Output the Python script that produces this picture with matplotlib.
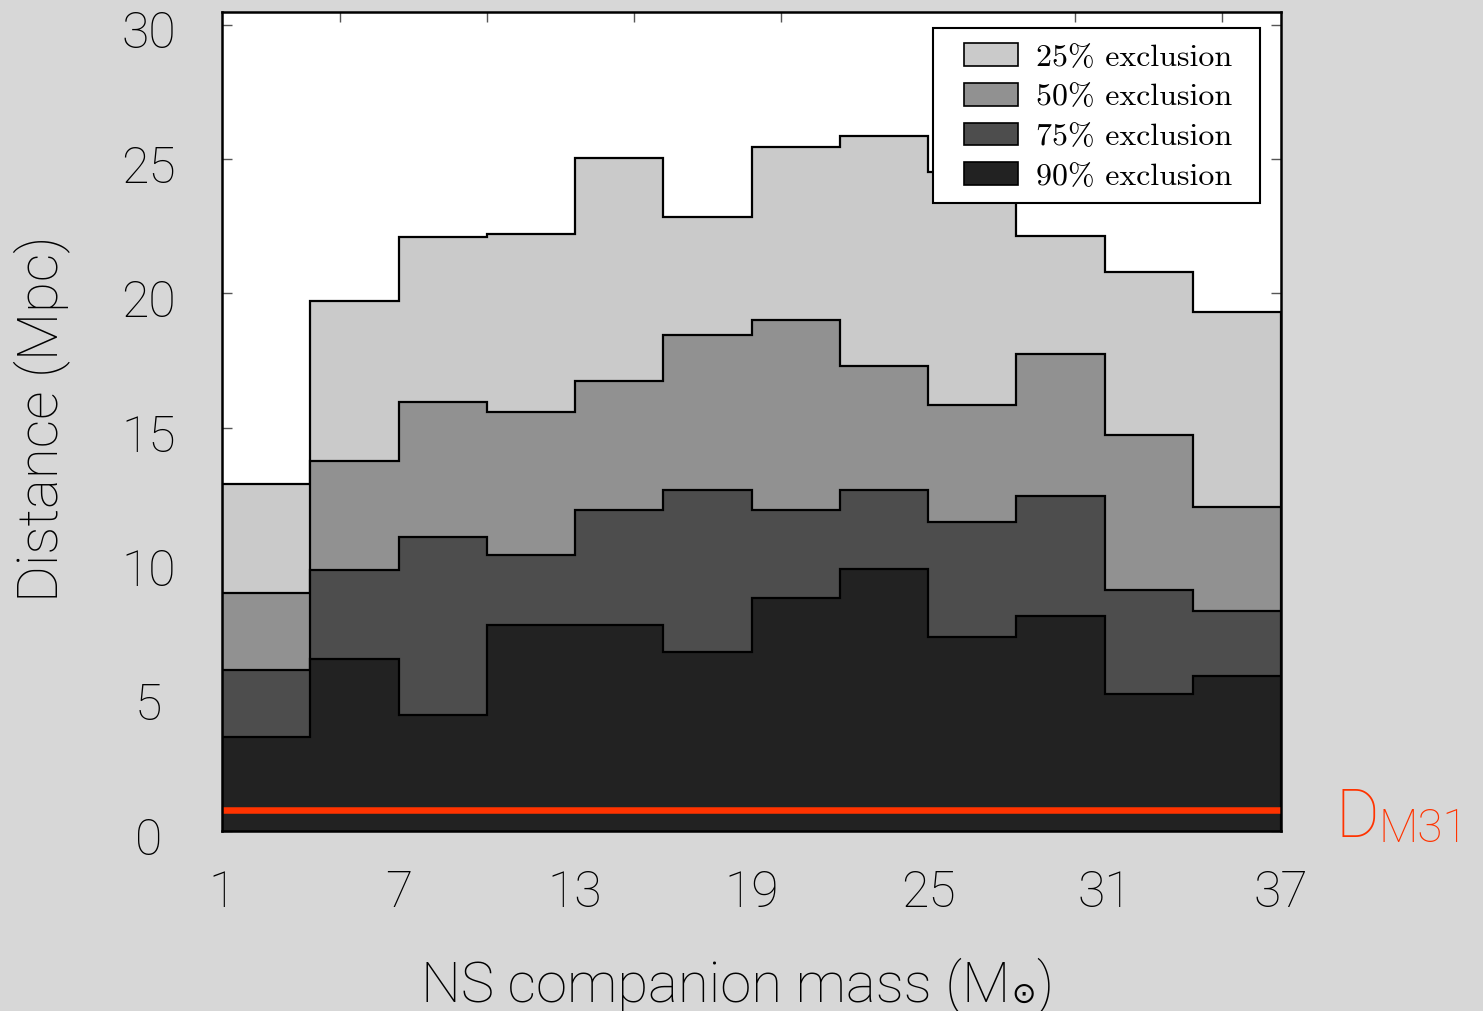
import matplotlib
matplotlib.use("Agg")
import matplotlib.pyplot as plt
from matplotlib.patches import Patch, Rectangle
from matplotlib.ticker import FixedLocator
from matplotlib.transforms import ScaledTranslation

# ---- data ----
mass_edges = [1, 4, 7, 10, 13, 16, 19, 22, 25, 28, 31, 34, 37]
excl25 = [12.9, 19.7, 22.1, 22.2, 25.05, 22.85, 25.45, 25.85, 24.5, 22.15, 20.8, 19.3]
excl50 = [8.85, 13.75, 15.95, 15.6, 16.75, 18.45, 19.0, 17.3, 15.85, 17.75, 14.75, 12.05]
excl75 = [6.0, 9.7, 10.95, 10.25, 11.95, 12.7, 11.95, 12.7, 11.5, 12.45, 8.95, 8.2]
excl90 = [3.5, 6.4, 4.3, 7.65, 7.65, 6.65, 8.65, 9.75, 7.2, 8.0, 5.1, 5.75]
series_labels = ["25% exclusion", "50% exclusion", "75% exclusion", "90% exclusion"]
series_colors = ["#cacaca", "#919191", "#4d4d4d", "#222222"]
x_ticks = [1, 7, 13, 19, 25, 31, 37]
y_ticks = [0, 5, 10, 15, 20, 25, 30]
d_m31 = 0.78

SANS = ["Roboto", "DejaVu Sans"]
SERIF = ["cmr10", "DejaVu Serif"]
RED = "#ff3300"
BG = "#d7d7d7"
W, H = 1483, 1011

fig = plt.figure(figsize=(W / 100, H / 100), dpi=100, facecolor=BG)
ax = fig.add_axes([222 / W, 1 - 831 / H, (1281 - 222) / W, (831 - 12) / H])
ax.set_facecolor("white")

for vals, col in zip([excl25, excl50, excl75, excl90], series_colors):
    ax.stairs(vals, mass_edges, baseline=0, fill=True, facecolor=col,
              edgecolor="black", linewidth=1.6, zorder=2)

ax.axhline(d_m31, color=RED, linewidth=4.7, zorder=3, solid_capstyle="butt")

ax.set_xlim(1, 37)
ax.set_ylim(0, 30.47)

for sp in ax.spines.values():
    sp.set_linewidth(1.8)
    sp.set_color("black")
    sp.set_zorder(5)

ax.xaxis.set_major_locator(FixedLocator(x_ticks))
ax.xaxis.set_minor_locator(FixedLocator([5, 10, 15, 20, 25, 30, 35]))
ax.yaxis.set_major_locator(FixedLocator(y_ticks))
ax.tick_params(axis="x", which="major", length=0, pad=28, labelsize=36)
ax.tick_params(axis="x", which="minor", direction="in", length=7, width=1.0,
               color="#555555", top=True, bottom=True)
ax.tick_params(axis="y", which="major", direction="in", length=7, width=1.0,
               color="#555555", left=True, right=True, pad=53, labelsize=36)
ax.set_xticklabels([str(v) for v in x_ticks], fontfamily=SANS, fontweight="light")
ax.set_yticklabels([str(v) for v in y_ticks], fontfamily=SANS, fontweight="light")
shift = ScaledTranslation(0, -5 / 100, fig.dpi_scale_trans)
for lab in ax.get_yticklabels():
    lab.set_horizontalalignment("center")
    lab.set_transform(lab.get_transform() + shift)

# legend (frame drawn separately to get the reference's padding)
handles = [Patch(facecolor=c, edgecolor="black", linewidth=1.2) for c in series_colors]
leg = ax.legend(handles, series_labels, loc="upper right",
                bbox_to_anchor=((1232 - 222) / 1059, (830.5 - 43) / 818.8),
                borderaxespad=0, frameon=False,
                prop={"family": SERIF, "size": 23}, handlelength=1.7, handleheight=0.71,
                handletextpad=0.55, labelspacing=0.35, borderpad=0)
leg.set_zorder(7)
ax.add_patch(Rectangle(((933 - 222) / 1059, (830.5 - 203) / 818.8),
                       (1260 - 933) / 1059, (203 - 28) / 818.8,
                       transform=ax.transAxes, facecolor="white", edgecolor="black",
                       linewidth=1.5, zorder=6))

renderer = fig.canvas.get_renderer()

# x label composed of pieces so the solar symbol is a small subscript
base_y = 1 - 1001 / H
t1 = fig.text(0, base_y, "NS companion mass (M", ha="left", va="baseline", fontsize=40.5,
              family=SANS, fontweight="light")
t_sun = fig.text(0, base_y, "\u2299", ha="left", va="baseline", fontsize=21,
                 family=["DejaVu Sans"])
t2 = fig.text(0, base_y, ")", ha="left", va="baseline", fontsize=40.5,
              family=SANS, fontweight="light")
w1 = t1.get_window_extent(renderer).width
ws = t_sun.get_window_extent(renderer).width
w2 = t2.get_window_extent(renderer).width
total = w1 + 1 + ws + 1 + w2
x0 = 737 - total / 2
t1.set_x(x0 / W)
t_sun.set_x((x0 + w1 + 1) / W)
t_sun.set_y(1 - 1003 / H)
t2.set_x((x0 + w1 + 1 + ws + 1) / W)

fig.text(57 / W, 1 - 419 / H, "Distance (Mpc)", rotation=90, rotation_mode="anchor",
         ha="center", va="baseline", fontsize=40.5, family=SANS, fontweight="light")

tD = fig.text(1335 / W, 1 - 837 / H, "D", ha="left", va="baseline", fontsize=48,
              color=RED, family=SANS, fontweight="light")
wD = tD.get_window_extent(renderer).width
fig.text((1335 + wD) / W, 1 - 842 / H, "M31", ha="left", va="baseline", fontsize=33,
         color=RED, family=SANS, fontweight="light")

fig.savefig("out.png", dpi=100, facecolor=BG)
